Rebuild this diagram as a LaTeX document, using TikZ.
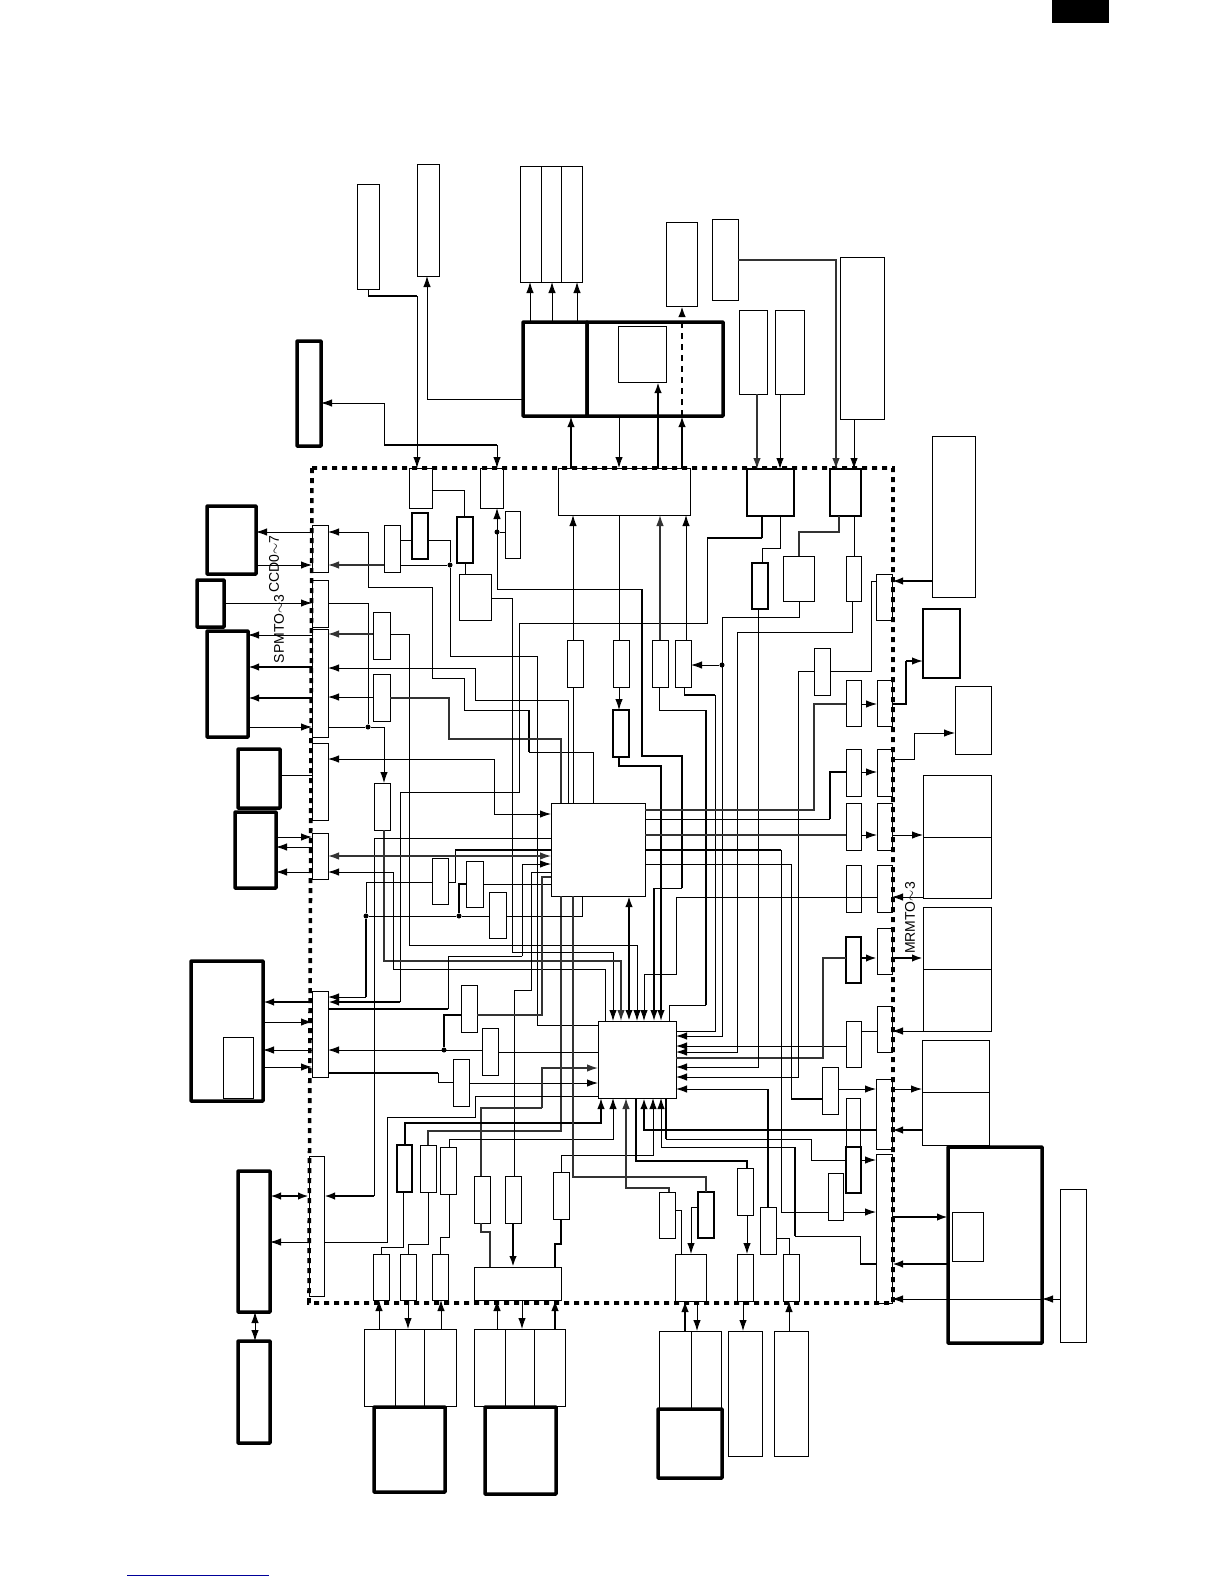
\documentclass[tikz,border=0pt]{standalone}
\usepackage{fontspec}
\setmainfont{Liberation Sans}
\usetikzlibrary{arrows.meta}

\tikzset{
  box/.style={draw, line width=0.95pt, inner sep=0pt, outer sep=0pt},
  mbox/.style={box, line width=1.3pt},
  bbox/.style={box, line width=3.5pt, rounded corners=0.6pt},
  wire/.style={line width=0.9pt},
  mwire/.style={line width=1.6pt},
  hwire/.style={line width=2.2pt},
  gwire/.style={line width=1.3pt, black!80},
  dot/.style={circle, fill, inner sep=0pt, minimum size=5pt},
  lab/.style={rotate=90, inner sep=0pt, font=\fontsize{14}{14}\selectfont}
}

\begin{document}
\begin{tikzpicture}[x=1pt, y=-1pt, >={Latex[length=11pt,width=7.5pt]}]
  \useasboundingbox (0,0) rectangle (1224,1584);
  % corner marks
  \fill (1052,0) rectangle (1109,23);
  \draw[line width=1pt, blue!60!black] (127,1575) -- (269,1575);

  % thin blocks
  \foreach \nm/\xa/\ya/\xb/\yb in {
    tpa/357/184/379/289, tpb/417/164/439/276, hva/520/166/541/282, hvb/541/166/561/282,
    hvc/561/166/582/282, lsi/618/326/666/382, tpc/666/222/697/306, tpd/712/219/738/300,
    tpe/739/310/767/394, tpf/775/310/804/394, tpg/840/257/884/419,
    ina/409/468/432/508, inb/480/468/503/508, inw/558/468/690/515,
    cn1/312/525/328/572, cn2/312/580/328/627, cn3/312/629/328/737, cn4/312/743/328/820,
    cn5/312/833/328/879, cn6/312/991/328/1077, cn7/309/1156/324/1296,
    lfi/223/1037/253/1098,
    sma/505/511/520/558, smd/384/525/400/572, sme/459/574/491/620, smf/373/612/390/659,
    smg/373/674/390/721, smh/374/783/390/830, smi/432/858/448/904, smj/466/861/483/907,
    smk/489/892/506/938, sml/461/985/477/1032, smm/482/1028/498/1075, smn/453/1059/469/1106,
    mda/567/640/583/687, mdb/613/640/629/687, mdc/652/640/668/687, mdd/675/640/691/687,
    cpua/551/803/645/896, cpub/598/1021/676/1098,
    pca/846/556/861/601, pcb/783/556/814/601, pcd/814/648/830/695,
    qa/846/680/861/726, cr0/876/574/892/620, cr1/877/680/892/726, qb/846/749/861/796,
    cr2/877/749/892/796, qc/846/803/861/850, cr3/877/803/892/850, qd/846/865/861/912,
    cr4/877/865/892/912, cr5/877/928/892/974, qf/846/1021/861/1067, cr6/877/1006/892/1052,
    qg/822/1067/838/1114, qh/846/1098/860/1146, cr7/876/1079/892/1149,
    qj/828/1173/843/1220, cr8/876/1154/892/1303,
    rdb/932/436/975/597, rdc/955/686/991/754, rdd/923/775/991/837, rde/923/837/991/898,
    rdf/923/907/991/969, rdg/923/969/991/1031, rdh/922/1040/989/1092, rdj/922/1092/989/1145,
    rdl/952/1212/983/1261, rdm/1060/1189/1086/1342,
    bma/420/1145/436/1192, bmb/440/1147/456/1194, bmc/474/1176/490/1223, bmd/505/1176/521/1223,
    bme/553/1172/569/1219, bca/373/1254/389/1300, bcb/400/1254/416/1300, bcc/432/1254/448/1300,
    bcd/474/1267/561/1300, sta/659/1192/675/1238, stc/737/1168/753/1215, std/760/1207/776/1254,
    bce/675/1254/706/1301, bcf/737/1254/753/1301, bcg/783/1254/799/1301,
    bda/364/1329/395/1406, bdb/395/1329/424/1406, bdc/424/1329/456/1406, bdd/474/1329/505/1406,
    bde/505/1329/534/1406, bdf/534/1329/565/1406, bdg/659/1331/691/1409, bdh/691/1331/721/1409,
    bdi/728/1331/762/1456, bdj/774/1331/808/1456}
    \node[box, minimum width={(\xb-\xa)*1pt}, minimum height={(\yb-\ya)*1pt}]
      (\nm) at ({(\xa+\xb)/2},{(\ya+\yb)/2}) {};
  % medium blocks
  \foreach \nm/\xa/\ya/\xb/\yb in {
    inc/747/469/794/516, ind/830/469/861/516, smb/457/517/473/563, smc/412/513/428/559,
    mde/613/710/629/757, pcc/752/563/768/609, qe/846/937/861/983, qi/846/1147/861/1193,
    bmz/397/1145/412/1192, stb/698/1192/714/1238, rda/923/609/960/678}
    \node[mbox, minimum width={(\xb-\xa)*1pt}, minimum height={(\yb-\ya)*1pt}]
      (\nm) at ({(\xa+\xb)/2},{(\ya+\yb)/2}) {};
  % heavy blocks
  \foreach \nm/\xa/\ya/\xb/\yb in {
    tpz/297/341/321/446, fsr/523/322/587/416, lsu/587/322/723/416,
    lfa/207/506/256/574, lfb/197/580/224/627, lfc/207/631/248/737, lfd/238/749/280/808,
    lfe/235/812/276/888, lff/191/961/263/1101, lfg/238/1171/270/1312, lfh/238/1341/270/1443,
    rdk/948/1147/1042/1343,
    bka/374/1407/445/1492, bkb/485/1407/556/1494, bkc/658/1409/722/1478}
    \node[bbox, minimum width={(\xb-\xa)*1pt}, minimum height={(\yb-\ya)*1pt}]
      (\nm) at ({(\xa+\xb)/2},{(\ya+\yb)/2}) {};

  % labels
  \node[lab] (ccdl) at (274,564) {CCD0$\sim$7};
  \node[lab] (spml) at (279,629) {SPMTO$\sim$3};
  \node[lab] (mrml) at (910,918) {MRMTO$\sim$3};

  % dots
  \foreach \nm/\xa/\ya in {da/497/532, db/450/565, dc/368/727, dd/366/916, de/459/916, df/444/1050, dg/722/665}
    \node[dot] (\nm) at (\xa,\ya) {};

  % frame
  \draw[line width=3.6pt, dash pattern=on 5pt off 5pt] (312,468) -- (893,468) -- (893,1303) -- (309,1303) -- cycle;

  % top side
  \draw[wire,->] (tpa.south) |- (417,296) -- (ina.north -| 417,0);
  \draw[mwire] (368,296) -- (417,296);
  \draw[wire,->] (fsr.west |- 0,399) -| (tpb.south -| 427,0);
  \foreach \xa in {530,552,577}
    \draw[wire,->] (fsr.north -| \xa,0) -- (hva.south -| \xa,0);
  \draw[wire,<->] (tpz.east |- 0,403) -| (384,445) -| (inb.north -| 497,0);
  \draw[mwire] (384,445) -- (497,445);
  \draw[hwire,->] (inw.north -| 571,0) -- (fsr.south -| 571,0);
  \draw[wire,->] (lsu.south -| 619,0) -- (inw.north -| 619,0);
  \draw[hwire,->] (inw.north -| 658,0) -- (lsi.south -| 658,0);
  \draw[hwire,->] (inw.north -| 682,0) -- (lsu.south -| 682,0);
  \draw[hwire,dash pattern=on 6pt off 5pt,->] (lsu.south -| 682,0) -- (tpc.south -| 682,0);
  \draw[gwire,->] (tpe.south -| 757,0) -- (inc.north -| 757,0);
  \draw[wire,->] (tpf.south -| 780,0) -- (inc.north -| 780,0);
  \draw[gwire,->] (tpd.east |- 0,260) -| (ind.north -| 836,0);
  \draw[wire,->] (tpg.south -| 854,0) -- (ind.north -| 854,0);
  \draw[hwire,->] (rdb.west |- 0,581) -- (cr0.east |- 0,581);

  % inside, upper left
  \draw[wire] (ina.east |- 0,490) -| (smb.north -| 464,0);
  \draw[wire] (smb.south -| 465,0) -- (sme.north -| 465,0);
  \draw[wire] (da) -- (sma.west |- da);
  \draw[wire,->] (642,589) -- (497,589) -- (inb.south -| 497,0);
  \draw[hwire] (642,589) |- (682,756) -- (682,888);
  \draw[wire] (682,888) -- (654,888);
  \draw[mwire,->] (654,888) -- (cpub.north -| 654,0);
  \draw[wire,->] (cn1.west |- 0,532) -- (lfa.east |- 0,532);
  \draw[wire,->] (lfa.east |- 0,565) -- (cn1.west |- 0,565);
  \draw[wire,->] (lfb.east |- 0,603) -- (cn2.west |- 0,603);
  \draw[wire,<-] (cn1.east |- 0,532) -| (368,587) -| (432,678) -| (464,710) -| (529,752) -| (cpua.north -| 593,0);
  \draw[mwire] (529,710) -- (529,752);
  \draw[gwire,<-] (cn1.east |- 0,565) -- (smd.west |- 0,565);
  \draw[wire] (smd.east |- 0,565) -- (db);
  \draw[wire] (smd.east |- 0,540) -- (smc.west |- 0,540);
  \draw[wire] (smc.east |- 0,540) -| (db);
  \draw[wire] (db) |- (537,656) |- (cpub.west |- 0,1025);
  \draw[wire] (cn2.east |- 0,603) -| (dc);
  \draw[wire] (cn3.east |- dc) -- (dc);
  \draw[wire,->] (dc) -| (smh.north -| 384,0);

  % C3, C4, C5 sides
  \draw[wire,->] (cn3.west |- 0,635) -- (lfc.east |- 0,635);
  \draw[hwire,->] (cn3.west |- 0,667) -- (lfc.east |- 0,667);
  \draw[hwire,->] (cn3.west |- 0,698) -- (lfc.east |- 0,698);
  \draw[wire,->] (lfc.east |- 0,727) -- (cn3.west |- 0,727);
  \draw[gwire,<-] (cn3.east |- 0,634) -- (smf.west |- 0,634);
  \draw[wire,->] (smf.east |- 0,634) -| (409,945) -| (cpub.north -| 637,0);
  \draw[wire,<-] (cn3.east |- 0,668) -| (475,700) -| (cpua.north -| 568,0);
  \draw[wire,<-] (cn3.east |- 0,697) -- (smg.west |- 0,697);
  \draw[gwire] (smg.east |- 0,698) -| (449,739) -| (cpua.north -| 561,0);
  \draw[gwire] (cpua.south -| 561,0) |- (428,1131) -- (bma.north -| 428,0);
  \draw[wire] (lfd.east |- 0,775) -- (cn4.west |- 0,775);
  \draw[wire,<-] (cn4.east |- 0,759) -| (494,814);
  \draw[wire,->] (494,814) -- (cpua.west |- 0,814);
  \draw[wire,->] (sme.east |- 0,598) -| (512,952) -| (cpub.north -| 613,0);
  \draw[mwire] (inc.south -| 762,0) -- (762,538);
  \draw[hwire] (762,538) -- (707,538);
  \draw[wire] (707,538) |- (519,623) -- (519,792) -| (400,1002);
  \draw[hwire,->] (400,1002) -- (cn6.east |- 0,1002);
  \draw[gwire,->] (smh.south -| 384,0) |- (621,961) -- (cpub.north -| 621,0);
  \draw[wire,<-] (cn5.east |- 0,872) -| (393,969) -| (cpub.north -| 605,0);
  \draw[wire] (cpua.west |- 0,838) -| (374,1196);
  \draw[hwire,->] (374,1196) -- (cn7.east |- 0,1196);
  \draw[hwire] (cpua.west |- 0,850) -- (455,850);
  \draw[wire] (455,850) |- (smi.east |- 0,882);
  \draw[wire] (smi.west |- 0,882) -| (dd);
  \draw[hwire] (dd) -- (366,997);
  \draw[wire,->] (366,997) -- (cn6.east |- 0,997);
  \draw[gwire,<->] (cn5.east |- 0,856) -- (cpua.west |- 0,856);
  \draw[wire,->] (522,956) -- (522,864) -- (cpua.west |- 0,864);
  \draw[wire] (522,956) -| (448,1009);
  \draw[hwire] (448,1009) -- (cn6.east |- 0,1009);
  \draw[wire] (cpua.west |- 0,872) -| (531,990) -| (bmd.north -| 514,0);
  \draw[wire] (smj.east |- 0,884) -- (cpua.west |- 0,884);
  \draw[hwire] (smj.west |- 0,884) -| (de);
  \draw[wire] (dd) -- (de) -- (smk.west |- de);
  \draw[wire] (smk.east |- 0,916) -| (cpua.south -| 582,0);
  \draw[gwire] (cpua.west |- 0,877) -| (542,1015) -- (sml.east |- 0,1015);
  \draw[mwire] (sml.west |- 0,1015) -| (df);
  \draw[wire,->] (smm.west |- df) -- (cn6.east |- df);
  \draw[wire] (smm.east |- 0,1052) -- (cpub.west |- 0,1052);
  \draw[wire] (smn.west |- 0,1082) -| (438,1073);
  \draw[hwire] (438,1073) -- (cn6.east |- 0,1073);
  \draw[wire,->] (smn.east |- 0,1083) -- (cpub.west |- 0,1083);
  \draw[gwire] (bmc.north -| 481,0) |- (542,1108);
  \draw[gwire,->] (542,1108) |- (cpub.west |- 0,1068);
  \draw[wire] (cpub.west |- 0,1096) -| (475,1117) -| (387,1242) -- (cn7.east |- 0,1242);

  % left side
  \draw[wire,->] (cn7.west |- 0,1242) -- (lfg.east |- 0,1242);
  \draw[hwire,<->] (lfg.east |- 0,1196) -- (cn7.west |- 0,1196);
  \draw[wire,<->] (lfg.south -| 255,0) -- (lfh.north -| 255,0);
  \draw[hwire,->] (cn6.west |- 0,1002) -- (lff.east |- 0,1002);
  \draw[wire,->] (lff.east |- 0,1022) -- (cn6.west |- 0,1022);
  \draw[wire,->] (cn6.west |- 0,1050) -- (lff.east |- 0,1050);
  \draw[wire,->] (lff.east |- 0,1067) -- (cn6.west |- 0,1067);
  \draw[wire,->] (lfe.east |- 0,837) -- (cn5.west |- 0,837);
  \draw[wire,->] (cn5.west |- 0,847) -- (lfe.east |- 0,847);
  \draw[wire,->] (cn5.west |- 0,872) -- (lfe.east |- 0,872);

  % under cpub
  \draw[mwire,->] (bmz.north -| 405,0) |- (601,1123) -- (cpub.south -| 601,0);
  \draw[wire,->] (bmb.north -| 449,0) |- (613,1139) -- (cpub.south -| 613,0);
  \draw[wire,->] (bme.north -| 561,0) |- (653,1155) -- (cpub.south -| 653,0);
  \draw[wire] (mda.south -| 573,0) -- (cpua.north -| 573,0);
  \draw[gwire] (cpua.south -| 573,0) |- (706,1177) -- (stb.north -| 706,0);
  \draw[gwire,->] (sta.north -| 669,0) |- (626,1188) -- (cpub.south -| 626,0);
  \draw[hwire] (cpub.south -| 636,0) |- (747,1161) -- (stc.north -| 747,0);
  \draw[hwire,->] (cr7.west |- 0,1130) -| (cpub.south -| 644,0);
  \draw[hwire,->] (rdj.west |- 0,1130) -- (cr7.east |- 0,1130);
  \draw[wire,->] (795,1147) -- (661,1147) -- (cpub.south -| 661,0);
  \draw[hwire] (795,1147) -- (795,1236);
  \draw[wire] (795,1236) -| (860,1264);
  \draw[hwire] (860,1264) -- (cr8.west |- 0,1264);
  \draw[hwire,->] (rdk.west |- 0,1264) -- (cr8.east |- 0,1264);
  \draw[hwire] (cpub.south -| 666,0) -- (666,1139);
  \draw[wire] (666,1139) -| (811,1160) -- (qi.west |- 0,1160);
  \draw[wire,->] (qi.east |- 0,1160) -- (cr8.west |- 0,1160);

  % mid verticals
  \draw[wire,->] (mda.north -| 573,0) -- (inw.south -| 573,0);
  \draw[wire] (mdb.north -| 619,0) -- (inw.south -| 619,0);
  \draw[gwire,->] (mdc.north -| 660,0) -- (inw.south -| 660,0);
  \draw[wire,->] (mdd.north -| 686,0) -- (inw.south -| 686,0);
  \draw[wire,->] (mdb.south -| 619,0) -- (mde.north -| 619,0);
  \draw[mwire,->] (mde.south -| 619,0) |- (661,766) -- (cpub.north -| 661,0);
  \draw[hwire,<->] (cpua.south -| 629,0) -- (cpub.north -| 629,0);
  \draw[wire] (mdc.south -| 659,0) |- (706,710);
  \draw[hwire] (706,710) -- (706,1005);
  \draw[wire] (706,1005) -| (cpub.north -| 669,0);
  \draw[wire] (mdd.south -| 684,0) |- (715,695) |- (cpub.east |- 0,1031);
  \draw[mwire] (684,695) -- (715,695);
  \draw[wire,->] (dg) -- (mdd.east |- dg);
  \draw[wire,->] (pcb.south -| 799,0) |- (722,617) |- (cpub.east |- 0,1036);
  \draw[wire,->] (pca.south -| 852,0) |- (737,632) |- (cpub.east |- 0,1052);
  \draw[wire,->] (qf.west |- 0,1046) -- (cpub.east |- 0,1046);
  \draw[gwire] (qe.west |- 0,958) -| (823,1058) -- (cpub.east |- 0,1058);
  \draw[wire,->] (pcc.south -| 758,0) |- (cpub.east |- 0,1067);
  \draw[wire] (pcc.north -| 762,0) |- (780,548) -- (inc.south -| 780,0);
  \draw[wire,->] (pcd.west |- 0,671) -| (798,1077) -- (cpub.east |- 0,1077);
  \draw[wire] (pcd.east |- 0,671) -| (871,581) -- (cr0.west |- 0,581);
  \draw[gwire] (pcb.north -| 799,0) |- (839,532) -- (ind.south -| 839,0);
  \draw[wire] (pca.north -| 854,0) -- (ind.south -| 854,0);

  % cpua to right
  \draw[gwire] (cpua.east |- 0,810) -| (814,704) -- (qa.west |- 0,704);
  \draw[wire,->] (qa.east |- 0,704) -- (cr1.west |- 0,704);
  \draw[hwire] (cr1.east |- 0,704) -| (906,661);
  \draw[mwire,->] (906,661) -- (rda.west |- 0,661);
  \draw[wire] (cpua.east |- 0,819) -- (830,819);
  \draw[mwire] (830,819) |- (qb.west |- 0,772);
  \draw[wire,->] (qb.east |- 0,772) -- (cr2.west |- 0,772);
  \draw[wire,->] (cr2.east |- 0,759) -| (914,733) -- (rdc.west |- 0,733);
  \draw[gwire] (cpua.east |- 0,835) -- (qc.west |- 0,835);
  \draw[wire,->] (qc.east |- 0,835) -- (cr3.west |- 0,835);
  \draw[wire,->] (cr3.east |- 0,835) -- (rdd.west |- 0,835);
  \draw[wire,->] (rde.west |- 0,897) -- (cr4.east |- 0,897);
  \draw[wire] (cr4.west |- 0,897) -- (676,897) |- (644,974);
  \draw[wire,->] (644,974) -- (cpub.north -| 644,0);
  \draw[hwire] (cpua.east |- 0,850) -- (781,850);
  \draw[wire] (781,850) |- (qj.west |- 0,1212);
  \draw[wire,->] (qj.east |- 0,1212) -- (cr8.west |- 0,1212);
  \draw[wire] (cpua.east |- 0,864) -| (791,1099);
  \draw[hwire] (791,1099) -- (qg.west |- 0,1099);
  \draw[wire,->] (qg.east |- 0,1089) -- (cr7.west |- 0,1089);
  \draw[wire,->] (cr7.east |- 0,1089) -- (rdh.west |- 0,1089);
  \draw[hwire,->] (qe.east |- 0,958) -- (cr5.west |- 0,958);
  \draw[hwire,->] (cr5.east |- 0,958) -- (rdf.west |- 0,958);
  \draw[wire] (qf.east |- 0,1031) -- (cr6.west |- 0,1031);
  \draw[wire,->] (rdg.west |- 0,1031) -- (cr6.east |- 0,1031);
  \draw[hwire] (std.north -| 768,0) -- (768,1089);
  \draw[wire,->] (768,1089) -- (cpub.east |- 0,1089);
  \draw[wire,->] (rdm.west |- 0,1299) -- (rdk.east |- 0,1299);
  \draw[wire,->] (rdk.east |- 0,1299) -- (cr8.east |- 0,1299);
  \draw[hwire,->] (cr8.east |- 0,1217) -- (rdk.west |- 0,1217);

  % lower blocks
  \draw[wire,->] (stb.west |- 0,1207) -| (bce.north -| 691,0);
  \draw[wire] (sta.east |- 0,1210) -| (bce.north -| 681,0);
  \draw[wire,->] (stc.south -| 747,0) -- (bcf.north -| 747,0);
  \draw[wire] (std.east |- 0,1238) -| (bcg.north -| 789,0);
  \draw[mwire,<-] (bce.south -| 685,0) -- (bdg.north -| 685,0);
  \draw[wire,->] (bce.south -| 697,0) -- (bdh.north -| 697,0);
  \draw[wire,->] (bcf.south -| 743,0) -- (bdi.north -| 743,0);
  \draw[wire,<-] (bcg.south -| 789,0) -- (bdj.north -| 789,0);
  \draw[wire,<-] (bca.south -| 379,0) -- (bda.north -| 379,0);
  \draw[wire,->] (bcb.south -| 408,0) -- (bdb.north -| 408,0);
  \draw[wire,<-] (bcc.south -| 441,0) -- (bdc.north -| 441,0);
  \draw[wire,<-] (bcd.south -| 497,0) -- (bdd.north -| 497,0);
  \draw[wire,->] (bcd.south -| 522,0) -- (bde.north -| 522,0);
  \draw[mwire,<-] (bcd.south -| 555,0) -- (bdf.north -| 555,0);
  \draw[wire] (bmz.south -| 403,0) |- (381,1247) -- (bca.north -| 381,0);
  \draw[wire] (bma.south -| 428,0) |- (408,1244) -- (bcb.north -| 408,0);
  \draw[wire] (bmb.south -| 449,0) |- (440,1237) -- (bcc.north -| 440,0);
  \draw[gwire] (bmc.south -| 481,0) |- (490,1232) -- (bcd.north -| 490,0);
  \draw[hwire,->] (bmd.south -| 513,0) -- (bcd.north -| 513,0);
  \draw[mwire] (bme.south -| 561,0) |- (555,1244) -- (bcd.north -| 555,0);
\end{tikzpicture}
\end{document}
